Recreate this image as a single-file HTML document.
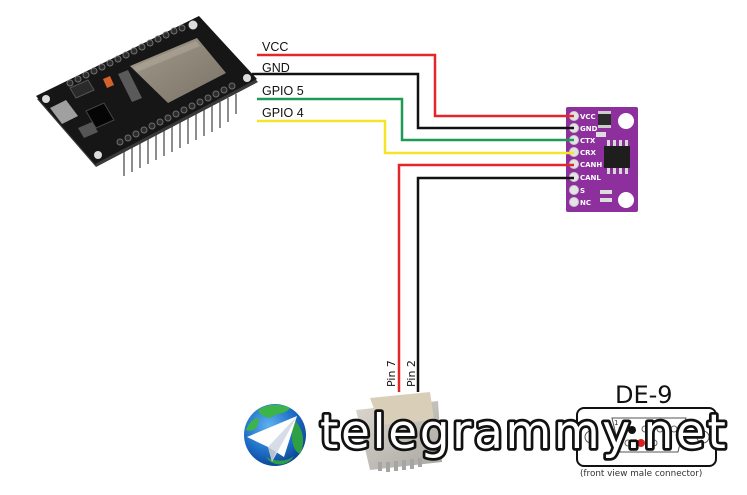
<!DOCTYPE html>
<html>
<head>
<meta charset="utf-8">
<style>
html,body{margin:0;padding:0;background:#fff;}
svg{display:block;}
</style>
</head>
<body>
<svg width="747" height="495" viewBox="0 0 747 495" xmlns="http://www.w3.org/2000/svg">
<defs>
<radialGradient id="globe" cx="0.4" cy="0.35" r="0.7">
<stop offset="0" stop-color="#5fb0f0"/>
<stop offset="0.6" stop-color="#1f6fc8"/>
<stop offset="1" stop-color="#0b3f8f"/>
</radialGradient>
<linearGradient id="shield" x1="0" y1="0" x2="1" y2="1">
<stop offset="0" stop-color="#a39a8c"/>
<stop offset="1" stop-color="#7a7266"/>
</linearGradient>
<linearGradient id="conn" x1="0" y1="0" x2="1" y2="1">
<stop offset="0" stop-color="#dcd8d0"/>
<stop offset="1" stop-color="#a9a6a0"/>
</linearGradient>
</defs>
<rect width="747" height="495" fill="#fff"/>

<!-- ESP32 board -->
<g>
<g stroke="#8d8d8d" stroke-width="2">
<line x1="124" y1="150" x2="124" y2="176"/>
<line x1="132" y1="146" x2="132" y2="172"/>
<line x1="140" y1="142" x2="140" y2="168"/>
<line x1="148" y1="138" x2="148" y2="164"/>
<line x1="156" y1="134" x2="156" y2="160"/>
<line x1="164" y1="130" x2="164" y2="156"/>
<line x1="172" y1="126" x2="172" y2="152"/>
<line x1="180" y1="122" x2="180" y2="148"/>
<line x1="188" y1="118" x2="188" y2="144"/>
<line x1="196" y1="114" x2="196" y2="140"/>
<line x1="204" y1="110" x2="204" y2="136"/>
<line x1="212" y1="106" x2="212" y2="132"/>
<line x1="220" y1="102" x2="220" y2="128"/>
<line x1="228" y1="98" x2="228" y2="122"/>
<line x1="236" y1="94" x2="236" y2="114"/>
</g>
<polygon points="37,99 199,19 258,82 96,167" fill="#3a3a3a"/>
<polygon points="36,96 199,16 257,79 95,164" fill="#161616"/>
<circle cx="46" cy="99" r="4" fill="#ddd"/>
<circle cx="193" cy="25" r="4.5" fill="#ddd"/>
<circle cx="247" cy="78" r="4" fill="#ddd"/>
<circle cx="98" cy="155" r="4" fill="#ddd"/>
<g fill="#2c2c2c" stroke="#707070" stroke-width="1">
<circle cx="70" cy="83" r="3"/><circle cx="78" cy="79" r="3"/><circle cx="86" cy="75" r="3"/><circle cx="94" cy="71" r="3"/><circle cx="102" cy="67" r="3"/><circle cx="110" cy="63" r="3"/><circle cx="118" cy="59" r="3"/><circle cx="126" cy="55" r="3"/><circle cx="134" cy="51" r="3"/><circle cx="142" cy="47" r="3"/><circle cx="150" cy="43" r="3"/><circle cx="158" cy="39" r="3"/><circle cx="166" cy="35" r="3"/><circle cx="174" cy="31" r="3"/><circle cx="182" cy="28" r="3"/>
</g>
<g fill="#2c2c2c" stroke="#707070" stroke-width="1">
<circle cx="120" cy="142" r="3"/><circle cx="128" cy="138" r="3"/><circle cx="136" cy="134" r="3"/><circle cx="144" cy="130" r="3"/><circle cx="152" cy="126" r="3"/><circle cx="160" cy="122" r="3"/><circle cx="168" cy="118" r="3"/><circle cx="176" cy="114" r="3"/><circle cx="184" cy="110" r="3"/><circle cx="192" cy="106" r="3"/><circle cx="200" cy="102" r="3"/><circle cx="208" cy="98" r="3"/><circle cx="216" cy="94" r="3"/><circle cx="224" cy="90" r="3"/><circle cx="232" cy="86" r="3"/>
</g>
<polygon points="130,66 197,38 226,73 168,103" fill="url(#shield)"/>
<polygon points="133,67 196,41 200,46 137,72" fill="#b1a899" opacity="0.6"/>
<polygon points="103,79 110,76 114,85 107,88" fill="#d4622a"/>
<polygon points="118,74 128,70 142,98 132,102" fill="#5a5a5a"/>
<polygon points="50,108 66,100 78,116 62,124" fill="#a0a0a0"/>
<polygon points="86,111 104,103 114,120 96,128" fill="#050505" stroke="#444" stroke-width="1"/>
<polygon points="70,88 88,80 94,90 76,98" fill="#2a2a2a" stroke="#555" stroke-width="1"/>
<polygon points="78,128 92,122 98,132 84,138" fill="#555"/>
</g>

<!-- wires -->
<g fill="none" stroke-width="2.5" stroke-linejoin="miter">
<polyline points="257,55 435,55 435,116 574,116" stroke="#e3262a"/>
<polyline points="252,74 418,74 418,128 574,128" stroke="#111"/>
<polyline points="257,99 402,99 402,140 574,140" stroke="#1f9a55"/>
<polyline points="257,121 385,121 385,153 574,153" stroke="#f2e52a"/>
<polyline points="574,165 399,165 399,392" stroke="#e3262a"/>
<polyline points="574,178 418,178 418,392" stroke="#111"/>
</g>

<g font-family="Liberation Sans, DejaVu Sans, sans-serif" font-size="12.5" fill="#111">
<text x="262" y="51">VCC</text>
<text x="262" y="72">GND</text>
<text x="262" y="95">GPIO 5</text>
<text x="262" y="117">GPIO 4</text>
</g>

<!-- CAN module -->
<g>
<rect x="566" y="107" width="72" height="105" rx="2" fill="#8e2f9e"/>
<circle cx="626" cy="121" r="8" fill="#fff"/>
<circle cx="626" cy="200" r="8" fill="#fff"/>
<g fill="#e4e4e4" stroke="#c9c9c9" stroke-width="1">
<circle cx="574" cy="116" r="4.5"/><circle cx="574" cy="128" r="4.5"/><circle cx="574" cy="140" r="4.5"/><circle cx="574" cy="152" r="4.5"/><circle cx="574" cy="164" r="4.5"/><circle cx="574" cy="177" r="4.5"/><circle cx="574" cy="190" r="4.5"/><circle cx="574" cy="202" r="4.5"/>
</g>
<line x1="566" y1="116" x2="574" y2="116" stroke="#e3262a" stroke-width="2.5"/>
<line x1="566" y1="128" x2="574" y2="128" stroke="#111" stroke-width="2.5"/>
<line x1="566" y1="140" x2="574" y2="140" stroke="#1f9a55" stroke-width="2.5"/>
<line x1="566" y1="153" x2="574" y2="153" stroke="#f2e52a" stroke-width="2.5"/>
<line x1="566" y1="165" x2="574" y2="165" stroke="#e3262a" stroke-width="2.5"/>
<line x1="566" y1="178" x2="574" y2="178" stroke="#111" stroke-width="2.5"/>
<g font-family="DejaVu Sans, sans-serif" font-size="7" font-weight="bold" fill="#fff">
<text x="580" y="119">VCC</text>
<text x="580" y="131">GND</text>
<text x="580" y="143">CTX</text>
<text x="580" y="155">CRX</text>
<text x="580" y="167">CANH</text>
<text x="580" y="180">CANL</text>
<text x="580" y="193">S</text>
<text x="580" y="205">NC</text>
</g>
<rect x="598" y="111" width="13" height="17" fill="#2a2a2a"/>
<rect x="598" y="111" width="13" height="3" fill="#ccc"/>
<rect x="598" y="125" width="13" height="3" fill="#ccc"/>
<g fill="#d8d8d8">
<rect x="607" y="140" width="3" height="6"/><rect x="613" y="140" width="3" height="6"/><rect x="619" y="140" width="3" height="6"/><rect x="625" y="140" width="3" height="6"/>
<rect x="607" y="168" width="3" height="6"/><rect x="613" y="168" width="3" height="6"/><rect x="619" y="168" width="3" height="6"/><rect x="625" y="168" width="3" height="6"/>
</g>
<rect x="604" y="146" width="26" height="22" fill="#1e1e1e"/>
<rect x="596" y="132" width="10" height="5" fill="#ddd"/>
<rect x="600" y="190" width="12" height="4" fill="#ddd"/>
<rect x="600" y="198" width="12" height="4" fill="#ddd"/>
</g>

<g font-family="DejaVu Sans, sans-serif" font-size="11" fill="#111">
<text transform="translate(395,387) rotate(-90)">Pin 7</text>
<text transform="translate(415,387) rotate(-90)">Pin 2</text>
</g>

<!-- DE-9 connector photo -->
<g>
<polygon points="356,410 438,401 442,462 370,470" fill="url(#conn)"/>
<polygon points="370,398 430,392 434,420 380,425" fill="#d9cfb8"/>
<g fill="#a5a5a5">
<rect x="378" y="462" width="4" height="9"/><rect x="386" y="462" width="4" height="10"/><rect x="394" y="461" width="4" height="10"/><rect x="402" y="460" width="4" height="10"/><rect x="410" y="459" width="4" height="10"/><rect x="418" y="458" width="4" height="9"/>
</g>
</g>

<!-- DE-9 diagram -->
<g>
<text x="615" y="403" font-family="DejaVu Sans, sans-serif" font-size="24" fill="#111">DE-9</text>
<rect x="577" y="408" width="139" height="58" rx="7" fill="none" stroke="#111" stroke-width="2"/>
<circle cx="591" cy="437" r="6" fill="none" stroke="#555" stroke-width="1"/>
<circle cx="703" cy="437" r="6" fill="none" stroke="#555" stroke-width="1"/>
<path d="M612,418 L686,418 L678,452 L620,452 Z" fill="none" stroke="#555" stroke-width="1"/>
<g fill="none" stroke="#666" stroke-width="1">
<circle cx="622" cy="429" r="3"/><circle cx="645" cy="429" r="3"/><circle cx="660" cy="429" r="3"/><circle cx="674" cy="429" r="3"/>
<circle cx="628" cy="443" r="3"/><circle cx="654" cy="443" r="3"/><circle cx="668" cy="443" r="3"/>
</g>
<circle cx="632" cy="430" r="4" fill="#111"/>
<circle cx="641" cy="443" r="4" fill="#e02020"/>
<text x="614" y="425" font-family="DejaVu Sans, sans-serif" font-size="7" fill="#333">1</text>
<text x="580" y="476" font-family="DejaVu Sans, sans-serif" font-size="8.8" fill="#333">(front view male connector)</text>
</g>

<!-- Globe logo -->
<g>
<circle cx="275" cy="435" r="31" fill="url(#globe)"/>
<path d="M258,410 C266,404 280,403 290,408 C286,414 276,413 270,418 C264,417 260,415 258,410 Z" fill="#3cb44a"/>
<path d="M294,420 C303,428 306,442 300,454 C292,450 290,438 294,420 Z" fill="#2ea043"/>
<path d="M266,457 C276,462 286,462 294,456 C288,466 274,468 266,457 Z" fill="#2ea043"/>
<path d="M246,430 C249,422 254,418 259,418 C259,428 252,433 246,430 Z" fill="#3cb44a"/>
<polygon points="247,437 297,416 284,457 268,447" fill="#ffffff"/>
<polygon points="268,447 297,416 272,462" fill="#d7dde6"/>
<polygon points="268,447 276,452 272,462" fill="#b8c2cf"/>
</g>

<!-- watermark text -->
<text x="320" y="448" font-family="DejaVu Sans, sans-serif" font-size="47" letter-spacing="2.6" fill="#fff" stroke="#111" stroke-width="5.5" stroke-linejoin="round" paint-order="stroke">telegrammy.net</text>
</svg>
</body>
</html>
